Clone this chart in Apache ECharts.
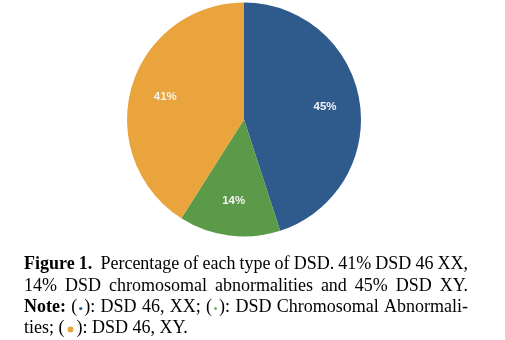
<!DOCTYPE html>
<html>
<head>
<meta charset="utf-8">
<script src="https://cdn.jsdelivr.net/npm/echarts@6/dist/echarts.min.js"></script>
<style>
html,body{margin:0;padding:0;background:#fff;}
#c{width:505px;height:340px;}
</style>
</head>
<body>
<div id="c"></div>
<script>
// ---- data ----
const categories = ['DSD 46, XY', 'DSD Chromosomal Abnormalities', 'DSD 46, XX'];
const values = [45, 14, 41];
const colors = ['#2E5B8C', '#5B9A48', '#E9A43D'];

// caption lines: words; each word = list of segments
// text segment: [text, 'r'|'b']; dot segment: ['dot', colorIndex, radius, advance]
const captionLines = [
  [[['Figure', 'b']], [['1.', 'b']], null, [['Percentage', 'r']], [['of', 'r']], [['each', 'r']], [['type', 'r']], [['of', 'r']], [['DSD.', 'r']], [['41%', 'r']], [['DSD', 'r']], [['46', 'r']], [['XX,', 'r']]],
  [[['14%', 'r']], [['DSD', 'r']], [['chromosomal', 'r']], [['abnormalities', 'r']], [['and', 'r']], [['45%', 'r']], [['DSD', 'r']], [['XY.', 'r']]],
  [[['Note:', 'b']], [['(', 'r'], ['dot', 0, 1.6, 7], ['):', 'r']], [['DSD', 'r']], [['46,', 'r']], [['XX;', 'r']], [['(', 'r'], ['dot', 1, 1.3, 7], ['):', 'r']], [['DSD', 'r']], [['Chromosomal', 'r']], [['Abnormali-', 'r']]],
  [[['ties;', 'r']], [['(', 'r'], ['dot', 2, 2.9, 12], ['):', 'r']], [['DSD', 'r']], [['46,', 'r']], [['XY.', 'r']]]
];
const justify = [true, true, true, false];

const FONT = "'Liberation Serif', 'Times New Roman', serif";
const FS = 18;

const ctx = document.createElement('canvas').getContext('2d');
function segWidth(s) {
  if (s[0] === 'dot') return s[3];
  ctx.font = (s[1] === 'b' ? 'bold ' : '') + FS + 'px ' + FONT;
  return ctx.measureText(s[0]).width;
}

const X0 = 24, X1 = 468;
const baselines = [270, 292, 313, 334];
const graphics = [];
captionLines.forEach((line, li) => {
  const words = [];
  const gapWeights = [];
  let pendingDouble = false;
  line.forEach(w => {
    if (w === null) { pendingDouble = true; return; }
    if (words.length) gapWeights.push(pendingDouble ? 2 : 1);
    pendingDouble = false;
    words.push(w);
  });
  const widths = words.map(w => w.reduce((a, s) => a + segWidth(s), 0));
  const total = widths.reduce((a, b) => a + b, 0);
  const wsum = gapWeights.reduce((a, b) => a + b, 0);
  const spaceW = segWidth([' ', 'r']);
  const unit = justify[li] ? (X1 - X0 - total) / wsum : spaceW;
  let x = X0;
  const by = baselines[li];
  words.forEach((w, i) => {
    let sx = x;
    w.forEach(s => {
      if (s[0] === 'dot') {
        graphics.push({
          type: 'circle', shape: { cx: sx + s[3] / 2, cy: by - 4.5, r: s[2] },
          style: { fill: colors[s[1]] }, silent: true
        });
      } else {
        graphics.push({
          type: 'text', x: sx, y: by - 6, silent: true,
          style: {
            text: s[0], fontFamily: FONT, fontSize: FS,
            fontWeight: s[1] === 'b' ? 'bold' : 'normal',
            fill: '#000', verticalAlign: 'middle', align: 'left'
          }
        });
      }
      sx += segWidth(s);
    });
    x += widths[i] + (i < gapWeights.length ? gapWeights[i] * unit : 0);
  });
});

const pieData = categories.map((n, i) => ({ name: n, value: values[i], itemStyle: { color: colors[i] } }));

const chart = echarts.init(document.getElementById('c'));
chart.setOption({
  animation: false,
  series: [
    {
      type: 'pie', center: [244, 119.5], radius: [0, 117],
      startAngle: 90, clockwise: true,
      label: { show: false }, labelLine: { show: false },
      itemStyle: { borderWidth: 0 },
      emphasis: { disabled: true },
      data: pieData
    },
    {
      type: 'pie', center: [244, 119.5], radius: [41, 117],
      startAngle: 90, clockwise: true, silent: true,
      itemStyle: { color: 'rgba(0,0,0,0)', borderWidth: 0 },
      label: {
        show: true, position: 'inside', formatter: '{d}%',
        color: '#f4f4f4', fontFamily: 'Liberation Sans, Arial, sans-serif',
        fontSize: 11.5, fontWeight: 'bold'
      },
      labelLine: { show: false },
      emphasis: { disabled: true },
      data: categories.map((n, i) => ({ name: n, value: values[i] }))
    }
  ],
  graphic: graphics
});
</script>
</body>
</html>
